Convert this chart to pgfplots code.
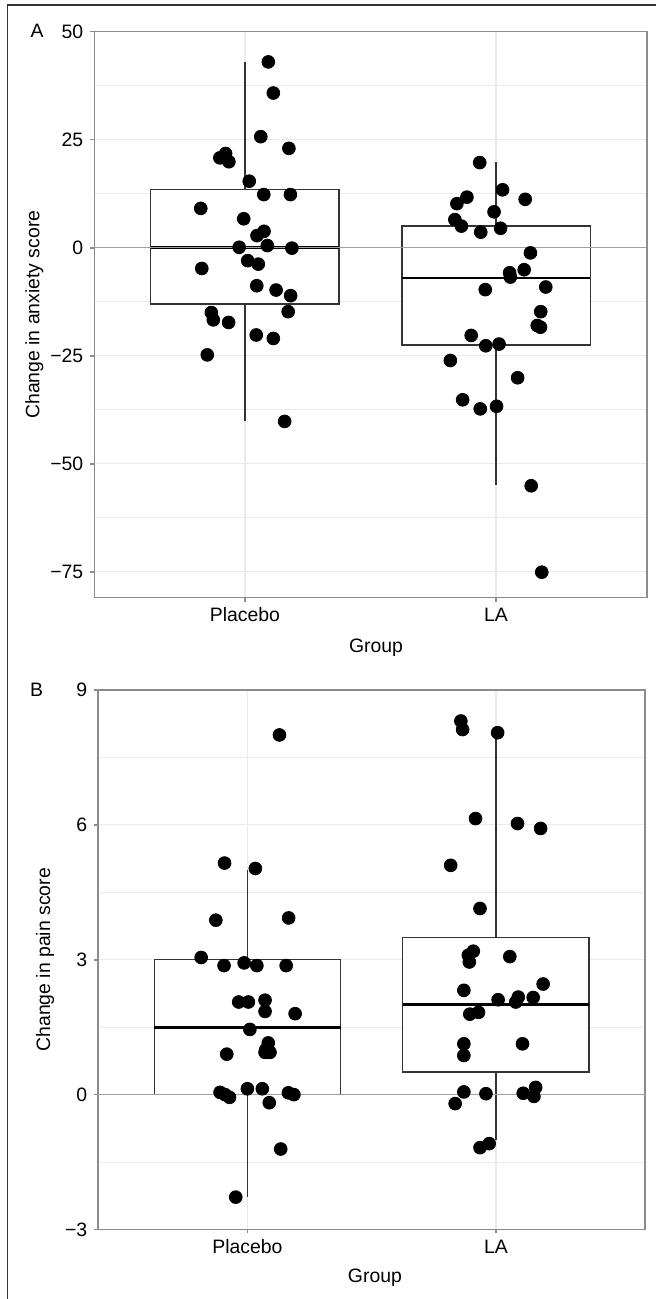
\documentclass[border=0pt]{standalone}
\usepackage{fontspec}
\setmainfont{Liberation Sans}
\usepackage{pgfplots}
\pgfplotsset{compat=1.18}
\usepgfplotslibrary{statistics}

\definecolor{gridc}{RGB}{235,235,235}
\definecolor{axc}{RGB}{140,140,140}
\definecolor{boxc}{RGB}{51,51,51}
\definecolor{zeroc}{RGB}{160,160,160}

\pgfplotsset{
  panel/.style={
    scale only axis, anchor=south west,
    xmin=0.4, xmax=2.6, xtick={1,2}, xticklabels={Placebo,LA},
    grid=both,
    major grid style={gridc, line width=0.6pt},
    minor grid style={gridc, line width=0.5pt},
    axis line style={axc, line width=0.8pt},
    tick style={axc, line width=0.8pt},
    tick align=outside, major tick length=2pt, minor tick length=0pt,
    xtick pos=bottom, ytick pos=left,
    font=\fontsize{9.7}{11}\selectfont,
    xticklabel style={anchor=base, yshift=-10pt},
    yticklabel style={anchor=east},
    ylabel style={anchor=center},
    xlabel style={anchor=base},
  },
  pts/.style={only marks, mark=*, mark size=3.2pt, black},
  bx/.style={boxc, line width=0.7pt, fill=white},
  boxplot/draw direction=y,
  boxplot/box extend=0.75,
  boxplot/whisker extend=0,
  boxplot/every median/.style={line width=1.4pt, black},
}

\begin{document}
\begin{tikzpicture}
\useasboundingbox (0pt,0pt) rectangle (328pt,649.5pt);
\draw[boxc, line width=0.65pt] (3.65pt,0pt) -- (3.65pt,647pt) -- (328pt,647pt);
\node[font=\fontsize{9.7}{11}\selectfont] at (18.5pt,634pt) {A};
\node[font=\fontsize{9.7}{11}\selectfont] at (18.25pt,304.5pt) {B};

% panel A: anxiety
\begin{axis}[panel,
  at={(47.15pt,350.65pt)}, width=276.2pt, height=283pt,
  ymin=-81, ymax=50,
  ytick={-75,-50,-25,0,25,50}, yticklabels={−75,−50,−25,0,25,50},
  minor ytick={-62.5,-37.5,-12.5,12.5,37.5},
  ylabel={Change in anxiety score}, xlabel={Group},
  ylabel style={at={(axis description cs:-0.1083,0.5)}},
  xlabel style={at={(axis description cs:0.51,-0.0977)}},
]
\addplot[bx, boxplot prepared={draw position=1, median=0, lower quartile=-13,
  upper quartile=13.5, lower whisker=-40, upper whisker=43}] coordinates {};
\addplot[bx, boxplot prepared={draw position=2, median=-7, lower quartile=-22.5,
  upper quartile=5, lower whisker=-55, upper whisker=19.8}] coordinates {};
\addplot[zeroc, line width=0.75pt] coordinates {(0.4,0) (2.6,0)};
% placebo
\addplot[pts] coordinates {
(1.093,43.0) (1.113,35.8) (1.063,25.7) (1.175,23.0) (0.900,20.8) (0.923,21.8)
(0.936,19.9) (1.017,15.4) (1.075,12.3) (1.181,12.3) (0.824,9.1) (0.995,6.7)
(1.076,3.8) (1.048,2.8) (0.977,0.1) (1.089,0.5) (1.187,-0.1) (0.828,-4.8)
(1.011,-3.0) (1.053,-3.8) (1.047,-8.8) (1.124,-9.8) (1.182,-11.1) (0.866,-15.0)
(0.874,-16.7) (0.935,-17.3) (1.172,-14.8) (1.045,-20.2) (1.113,-21.0)
(0.850,-24.8) (1.158,-40.2)
};
% LA
\addplot[pts] coordinates {
(1.935,19.7) (2.026,13.4) (2.116,11.2) (1.884,11.7) (1.844,10.2) (1.992,8.3)
(1.836,6.5) (1.862,5.0) (1.939,3.6) (2.018,4.5) (2.137,-1.2) (2.054,-5.8)
(2.112,-5.1) (2.057,-6.8) (1.957,-9.7) (2.198,-9.1) (2.178,-14.8) (2.164,-18.0)
(2.177,-18.4) (1.901,-20.3) (1.959,-22.7) (2.012,-22.3) (1.818,-26.1)
(2.086,-30.1) (1.867,-35.2) (1.937,-37.3) (2.002,-36.7) (2.140,-55.1)
(2.182,-75.1)
};
\end{axis}

% panel B: pain
\begin{axis}[panel,
  at={(49.15pt,34.75pt)}, width=273.35pt, height=269.75pt,
  ymin=-3, ymax=9,
  ytick={-3,0,3,6,9}, yticklabels={−3,0,3,6,9},
  minor ytick={-1.5,1.5,4.5,7.5},
  ylabel={Change in pain score}, xlabel={Group},
  ylabel style={at={(axis description cs:-0.0975,0.5)}},
  xlabel style={at={(axis description cs:0.506,-0.0986)}},
]
\addplot[bx, boxplot prepared={draw position=1, median=1.5, lower quartile=0,
  upper quartile=3, lower whisker=-2.28, upper whisker=5.0}] coordinates {};
\addplot[bx, boxplot prepared={draw position=2, median=2.0, lower quartile=0.5,
  upper quartile=3.5, lower whisker=-1.0, upper whisker=8.05}] coordinates {};
\addplot[zeroc, line width=0.75pt] coordinates {(0.4,0) (2.6,0)};
% placebo
\addplot[pts] coordinates {
(1.129,8.0) (0.908,5.15) (1.032,5.03) (0.873,3.88) (1.166,3.93) (0.814,3.05)
(0.906,2.87) (0.987,2.93) (1.038,2.87) (1.156,2.87) (0.965,2.06) (1.004,2.06)
(1.071,2.1) (1.071,1.85) (1.192,1.80) (1.010,1.45) (1.084,1.15) (1.074,1.0)
(1.091,0.94) (1.071,0.94) (0.917,0.90) (0.890,0.05) (0.910,0.0) (0.928,-0.06)
(1.0,0.13) (1.060,0.13) (1.165,0.04) (1.187,0.0) (1.088,-0.18) (1.134,-1.21)
(0.953,-2.28)
};
% LA
\addplot[pts] coordinates {
(1.859,8.31) (1.866,8.12) (2.007,8.05) (1.918,6.14) (2.087,6.03) (2.180,5.92)
(1.818,5.10) (1.936,4.14) (1.909,3.19) (1.889,3.10) (1.893,2.95) (2.056,3.07)
(2.190,2.46) (1.871,2.32) (2.009,2.11) (2.090,2.17) (2.080,2.06) (2.150,2.16)
(1.895,1.79) (1.930,1.83) (1.871,1.13) (2.107,1.13) (1.871,0.87) (1.871,0.06)
(1.960,0.02) (1.836,-0.2) (2.110,0.03) (2.160,0.16) (2.153,-0.04) (1.973,-1.09)
(1.936,-1.18)
};
\end{axis}
\end{tikzpicture}
\end{document}
